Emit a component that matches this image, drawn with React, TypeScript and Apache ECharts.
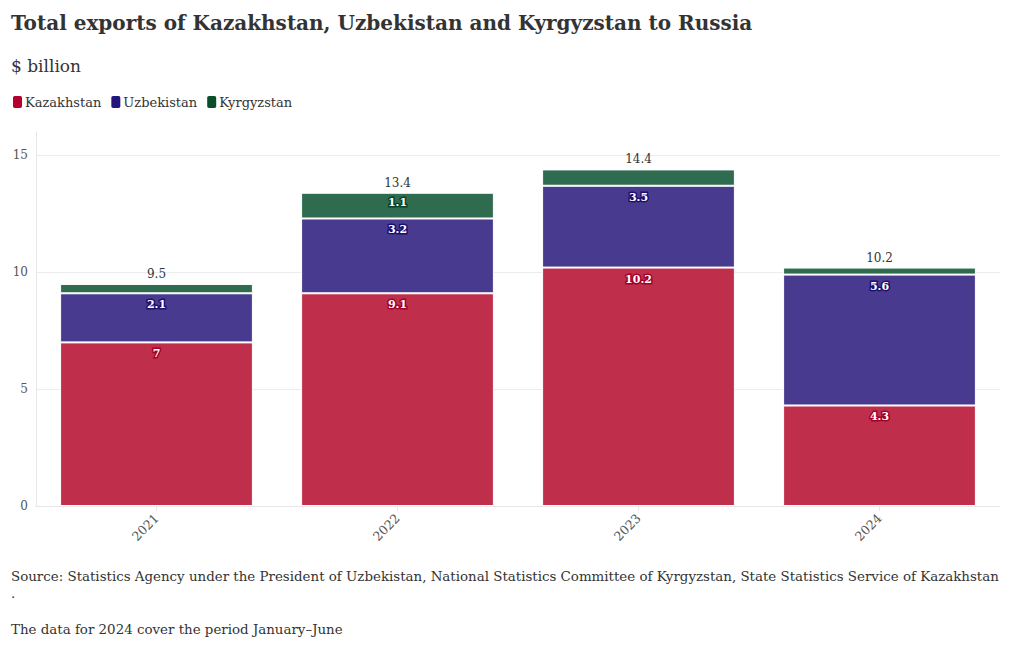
import React, { useEffect, useRef } from "react";
import * as echarts from "echarts";

const years = ["2021", "2022", "2023", "2024"];
const kazakhstan = [7, 9.1, 10.2, 4.3];
const uzbekistan = [2.1, 3.2, 3.5, 5.6];
const kyrgyzstan = [0.4, 1.1, 0.7, 0.3];
const yTicks = [0, 5, 10, 15];

const FONT = "'DejaVu Serif', serif";

export default function App() {
  const ref = useRef<HTMLDivElement>(null);
  useEffect(() => {
    if (!ref.current) return;
    const chart = echarts.init(ref.current, undefined, { renderer: "svg" });
    const totals = years.map((_, i) => +(kazakhstan[i] + uzbekistan[i] + kyrgyzstan[i]).toFixed(1));
    const segLabel = (border: string, minShow: number) => ({
      show: true,
      position: "insideTop" as const,
      distance: 6,
      color: "#fff",
      fontFamily: FONT,
      fontWeight: "bold" as const,
      fontSize: 11,
      textBorderColor: border,
      textBorderWidth: 3,
      formatter: (p: any) => (p.value >= minShow ? String(p.value) : ""),
    });
    chart.setOption({
      animation: false,
      textStyle: { fontFamily: FONT },
      title: [
        {
          text: "Total exports of Kazakhstan, Uzbekistan and Kyrgyzstan to Russia",
          left: 3,
          top: 5,
          padding: 0,
          textStyle: { fontFamily: FONT, fontSize: 20, fontWeight: "bold", color: "#333" },
        },
        {
          text: "$ billion",
          left: 3,
          top: 49,
          padding: 0,
          textStyle: { fontFamily: FONT, fontSize: 17, fontWeight: "normal", color: "#333" },
        },
      ],
      legend: {
        left: 3,
        top: 86,
        padding: 0,
        itemWidth: 11,
        itemHeight: 14,
        itemGap: 8,
        icon: "roundRect",
        textStyle: { fontFamily: FONT, fontSize: 13, color: "#333", padding: [0, 0, 0, -3] },
        data: [
          { name: "Kazakhstan", itemStyle: { color: "#b5002d" } },
          { name: "Uzbekistan", itemStyle: { color: "#22157d" } },
          { name: "Kyrgyzstan", itemStyle: { color: "#0a4d2b" } },
        ],
      },
      grid: { left: 28, right: 12, top: 124, bottom: 144, containLabel: false },
      xAxis: {
        type: "category",
        data: years,
        axisLine: { show: true, lineStyle: { color: "#e6e6e6" } },
        axisTick: { show: true, alignWithLabel: true, length: 5, lineStyle: { color: "#e6e6e6" } },
        axisLabel: { rotate: 45, color: "#555", fontFamily: FONT, fontSize: 12.5, margin: 10 },
        splitLine: { show: false },
      },
      yAxis: {
        type: "value",
        min: 0,
        max: 16,
        interval: 5,
        axisLine: { show: true, lineStyle: { color: "#e6e6e6" } },
        axisTick: { show: false },
        axisLabel: {
          color: "#555",
          fontFamily: FONT,
          fontSize: 12,
          margin: 8,
          showMaxLabel: false,
          formatter: (v: number) => (yTicks.includes(v) ? String(v) : ""),
        },
        splitLine: { show: true, showMaxLine: false, lineStyle: { color: "#ececec" } },
      },
      series: [
        {
          name: "Kazakhstan",
          type: "bar",
          stack: "total",
          barCategoryGap: "20%",
          data: kazakhstan,
          itemStyle: { color: "#bf2f4b", borderColor: "#fff", borderWidth: 1 },
          label: segLabel("#a3002a", 1),
        },
        {
          name: "Uzbekistan",
          type: "bar",
          stack: "total",
          data: uzbekistan,
          itemStyle: { color: "#483a8f", borderColor: "#fff", borderWidth: 1 },
          label: segLabel("#1c0f70", 1),
        },
        {
          name: "Kyrgyzstan",
          type: "bar",
          stack: "total",
          data: kyrgyzstan,
          itemStyle: { color: "#2e6b4f", borderColor: "#fff", borderWidth: 1 },
          label: { ...segLabel("#094325", 1), distance: 4 },
        },
        {
          name: "Total",
          type: "bar",
          stack: "total",
          data: years.map(() => 0),
          itemStyle: { color: "transparent" },
          label: {
            show: true,
            position: "top",
            distance: 4,
            color: "#333",
            fontFamily: FONT,
            fontSize: 12,
            fontWeight: "normal",
            formatter: (p: any) => String(totals[p.dataIndex]),
          },
        },
      ],
      graphic: [
        {
          type: "text",
          left: 3,
          top: 562,
          style: {
            text: "Source: Statistics Agency under the President of Uzbekistan, National Statistics Committee of Kyrgyzstan, State Statistics Service of Kazakhstan",
            font: `13.4px ${FONT}`,
            fill: "#333",
          },
        },
        {
          type: "text",
          left: 3,
          top: 579,
          style: { text: ".", font: `13.4px ${FONT}`, fill: "#333" },
        },
        {
          type: "text",
          left: 3,
          top: 615,
          style: {
            text: "The data for 2024 cover the period January–June",
            font: `13.4px ${FONT}`,
            fill: "#333",
          },
        },
      ],
    });
    return () => chart.dispose();
  }, []);
  return <div ref={ref} style={{ width: 1004, height: 642 }} />;
}
